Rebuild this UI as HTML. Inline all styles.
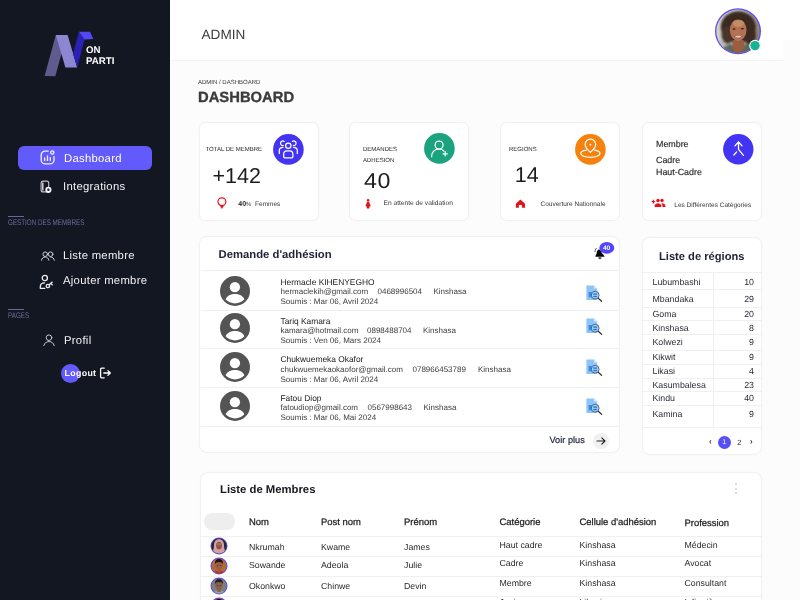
<!DOCTYPE html>
<html lang="fr">
<head>
<meta charset="utf-8">
<title>Dashboard</title>
<style>
*{box-sizing:border-box;margin:0;padding:0}
html,body{width:800px;height:600px;overflow:hidden}
body{font-family:"Liberation Sans",sans-serif;background:#fcfcfc;color:#222;position:relative;will-change:transform;text-rendering:geometricPrecision}
.abs{position:absolute}
.t{position:absolute;white-space:nowrap;line-height:1}
/* sidebar */
#side{position:absolute;left:0;top:0;width:170px;height:600px;background:#131722}
.nav{position:absolute;left:63px;color:#f1f1f4;font-size:11.3px;letter-spacing:.28px;line-height:1;white-space:nowrap}
.sec{position:absolute;left:8px;color:#6e6a9c;font-size:8.1px;line-height:1;white-space:nowrap;letter-spacing:0;transform:scaleX(.775);transform-origin:0 0}
.secl{position:absolute;left:8.300px;width:16px;height:1.800px;background:#6b6695}
/* header */
#top{position:absolute;left:170px;top:0;width:613px;height:60.500px;background:#fff;border-bottom:1px solid #f3f3f3}
/* cards */
.card{position:absolute;background:#fff;border:1px solid #f1f1f1;border-radius:7px;box-shadow:0 0 2px rgba(0,0,0,.045)}
.lbl{position:absolute;font-size:6px;color:#262626;white-space:nowrap;line-height:1}
.big{position:absolute;font-size:21.5px;color:#1c1c1c;white-space:nowrap;line-height:1}
.sm{position:absolute;font-size:6.5px;color:#383838;white-space:nowrap;line-height:1}
.circ{position:absolute;width:31px;height:31px;border-radius:50%}
</style>
</head>
<body>

<!-- ================= SIDEBAR ================= -->
<div id="side">
  <!-- logo -->
  <svg class="abs" style="left:40px;top:26px" width="84" height="54" viewBox="40 26 84 54">
    <polygon points="55.8,34.9 66.7,34.9 55.3,76.2 44.6,75.9" fill="#5f5b8e"/>
    <polygon points="55.8,34.900 67.600,34.900 77.200,67.500 65.400,67.500" fill="#8d86d3"/>
    <polygon points="78.900,31.750 84.500,39.600 77.200,67.500 73.100,53.700" fill="#2b1fb4"/>
    <polygon points="78.900,31.750 90.100,31.750 93.300,39.100 84.500,39.600" fill="#5249f4"/>
  </svg>
  <div class="t" style="left:86px;top:46px;font-size:9.700px;font-weight:bold;color:#fff">ON</div>
  <div class="t" style="left:86px;top:56.500px;font-size:9.700px;font-weight:bold;color:#fff">PARTI</div>

  <!-- active item -->
  <div class="abs" style="left:18px;top:145.5px;width:134px;height:24.5px;border-radius:6px;background:#625afa"></div>
  <svg class="abs" style="left:39px;top:149px" width="17" height="17" viewBox="0 0 17 17" fill="none" stroke="#efeeff" stroke-width="1.350" stroke-linecap="round">
    <path d="M9.300 2.100H6.200a4 4 0 0 0-4 4v4.800a4 4 0 0 0 4 4h4.800a4 4 0 0 0 4-4V7.400"/>
    <circle cx="13.300" cy="3.500" r="1.600"/>
    <path d="M5.700 8.800v2.800M8.500 6.800v4.800M11.300 8.600v3"/>
  </svg>
  <div class="nav" style="left:64px;top:153.600px;color:#fff">Dashboard</div>

  <svg class="abs" style="left:39px;top:180px" width="15" height="15" viewBox="0 0 15 15" fill="none" stroke="#c4c4cc" stroke-width="1.100">
    <rect x="2.100" y="1.100" width="7.600" height="10.800" rx="2"/>
    <path d="M3.800 2.400v8.200" stroke-width="1.600"/>
    <circle cx="9.400" cy="9.800" r="3.100" fill="#f4f4f6" stroke="none"/>
    <circle cx="9.400" cy="9.800" r="1.200" fill="#1a1e2a" stroke="none"/>
  </svg>
  <div class="nav" style="top:181.800px">Integrations</div>

  <div class="secl" style="top:215.600px"></div>
  <div class="sec" style="top:219.100px">GESTION DES MEMBRES</div>

  <svg class="abs" style="left:40px;top:250px" width="16" height="12" viewBox="0 0 16 12" fill="none" stroke="#cfcfd8" stroke-width="1" stroke-linecap="round">
    <circle cx="5.200" cy="4.200" r="2.300"/>
    <path d="M1.500 10.200c.3-1.900 1.700-3.200 3.700-3.200s3.400 1.300 3.700 3.200"/>
    <circle cx="10.600" cy="4.200" r="2.300"/>
    <path d="M10.600 7c2 0 3.400 1.300 3.700 3.200"/>
  </svg>
  <div class="nav" style="top:251px">Liste membre</div>

  <svg class="abs" style="left:39px;top:273.500px" width="16" height="16" viewBox="0 0 16 16" fill="none" stroke="#ececf2" stroke-width="1.300" stroke-linecap="round" stroke-linejoin="round">
    <circle cx="5.800" cy="4" r="2.600"/>
    <path d="M1.300 14.300v-1.600c0-2.300 1.700-3.900 4.300-3.900M1.300 14.300h4.500"/>
    <circle cx="8.900" cy="12" r="1.700"/>
    <path d="M10.200 10.800l3-2.700M12 9.500l1.200 1.200"/>
  </svg>
  <div class="nav" style="top:276.300px">Ajouter membre</div>

  <div class="secl" style="top:308.600px"></div>
  <div class="sec" style="top:312.100px">PAGES</div>

  <svg class="abs" style="left:42px;top:333px" width="14" height="14" viewBox="0 0 14 14" fill="none" stroke="#c6c6cf" stroke-width="1" stroke-linecap="round">
    <circle cx="7" cy="4.700" r="2.800"/>
    <path d="M1.800 12.600c.5-2.600 2.600-4 5.200-4s4.700 1.400 5.200 4"/>
  </svg>
  <div class="nav" style="left:64px;top:336.200px">Profil</div>

  <div class="abs" style="left:60.500px;top:363.500px;width:19px;height:19px;border-radius:50%;background:#625afa"></div>
  <div class="t" style="left:64.500px;top:369px;font-size:8.800px;font-weight:bold;color:#fff;letter-spacing:.35px">Logout</div>
  <svg class="abs" style="left:99px;top:367px" width="13" height="12" viewBox="0 0 13 12" fill="none" stroke="#fff" stroke-width="1.300" stroke-linecap="round" stroke-linejoin="round">
    <path d="M5.200 1.200H2.600a1 1 0 0 0-1 1v7.600a1 1 0 0 0 1 1h2.600"/>
    <path d="M4.800 6h6.400M8.900 3.600L11.300 6 8.900 8.400"/>
  </svg>
</div>

<!-- ================= HEADER ================= -->
<div id="top"></div>
<div class="abs" style="left:783px;top:0;width:17px;height:40px;background:#fff"></div>
<div class="t" style="left:201.500px;top:28px;font-size:13.600px;color:#3a3a3a">ADMIN</div>
<!-- avatar -->
<svg class="abs" style="left:714px;top:8px" width="48" height="48" viewBox="714 8 48 48">
  <defs>
    <clipPath id="avc"><circle cx="738" cy="31.300" r="21.700"/></clipPath>
    <filter id="avb" x="-20%" y="-20%" width="140%" height="140%"><feGaussianBlur stdDeviation="0.9"/></filter>
    <filter id="avb2" x="-20%" y="-20%" width="140%" height="140%"><feGaussianBlur stdDeviation="0.5"/></filter>
    <linearGradient id="avbg" x1="0" y1="0" x2="1" y2="0.300">
      <stop offset="0" stop-color="#dcd3c6"/><stop offset=".45" stop-color="#c9ccc4"/><stop offset="1" stop-color="#8f8271"/>
    </linearGradient>
  </defs>
  <circle cx="738" cy="31.300" r="23" fill="#5a4ff2"/>
  <g clip-path="url(#avc)">
    <rect x="714" y="8" width="48" height="48" fill="url(#avbg)"/>
    <g filter="url(#avb)">
      <ellipse cx="722" cy="48" rx="9" ry="8" fill="#b9bdb8"/>
      <!-- hair -->
      <ellipse cx="738.300" cy="27" rx="17.600" ry="15.800" fill="#3b2a22"/>
      <ellipse cx="727.500" cy="35" rx="6" ry="9" fill="#49342a"/>
      <ellipse cx="750" cy="35" rx="6" ry="10" fill="#3a2921"/>
      <!-- clothes -->
      <path d="M718 56c1-8 8-11 13-12l7 4 8-4c5 1 10 4 12 12z" fill="#5f675e"/>
    </g>
    <g filter="url(#avb2)">
      <!-- neck -->
      <path d="M733 40h10.500l1 8-5 6h-3l-4.500-6z" fill="#9a5d40"/>
      <!-- face -->
      <ellipse cx="738.200" cy="30" rx="8.300" ry="11" fill="#b27252"/>
      <ellipse cx="738.500" cy="23.500" rx="5.500" ry="3.500" fill="#c58a66"/>
      <ellipse cx="734" cy="29" rx="1.600" ry=".8" fill="#3a2119"/>
      <ellipse cx="742.300" cy="28.800" rx="1.600" ry=".8" fill="#3a2119"/>
      <ellipse cx="738.200" cy="37" rx="3.300" ry="1.300" fill="#e3c3b8"/>
      <path d="M734.500 36.300c2 2.600 5.500 2.600 7.500 0" stroke="#8c3f3a" stroke-width=".8" fill="none"/>
      <!-- hair top fringe -->
      <path d="M728 24c2-7 18-7 20.500 0-3-3.500-6-4.500-10-4.500s-8 1-10.500 4.500z" fill="#35251e"/>
    </g>
  </g>
  <circle cx="755" cy="45.600" r="5.800" fill="#fff"/>
  <circle cx="755" cy="45.600" r="4.700" fill="#18b394"/>
</svg>

<div class="t" style="left:198px;top:79.800px;font-size:6px;color:#333">ADMIN / DASHBOARD</div>
<div class="t" style="left:198px;top:90.800px;font-size:14.800px;font-weight:bold;color:#3b3b3d;-webkit-text-stroke:.35px #3b3b3d">DASHBOARD</div>

<!-- ================= STAT CARDS ================= -->
<div class="card" style="left:199px;top:122px;width:120px;height:98.500px"></div>
<div class="card" style="left:349px;top:122px;width:120px;height:98.500px"></div>
<div class="card" style="left:500px;top:122px;width:120px;height:98.500px"></div>
<div class="card" style="left:642px;top:122px;width:120px;height:98.500px"></div>

<!-- card 1 -->
<div class="lbl" style="left:205.500px;top:147px">TOTAL DE MEMBRE</div>
<svg class="abs" style="left:273px;top:133.800px" width="31" height="31" viewBox="0 0 31 31">
  <circle cx="15.400" cy="15.400" r="15.300" fill="#4333f2"/>
  <g fill="none" stroke="#fff" stroke-width="1.250" stroke-linecap="round" stroke-linejoin="round">
    <circle cx="15.300" cy="11.700" r="2.700"/>
    <path d="M10.700 22.800V20.300c0-2 1.300-3.400 3.300-3.400h2.600c2 0 3.300 1.400 3.300 3.400V22.800c0 .6-.4 1-1 1h-7.200c-.6 0-1-.4-1-1z"/>
    <path d="M11.200 7.400A2.300 2.300 0 1 0 10.300 11.500"/>
    <path d="M6.300 19.500V16.600c0-2 1.500-3.300 3.700-3.300"/>
    <path d="M19.400 7.400A2.300 2.300 0 1 1 20.300 11.500"/>
    <path d="M24.300 19.500V16.600c0-2-1.500-3.300-3.700-3.300"/>
  </g>
</svg>
<div class="big" style="left:212.500px;top:166px">+142</div>
<svg class="abs" style="left:216.200px;top:195.600px" width="12" height="14" viewBox="0 0 12 14">
  <circle cx="5.900" cy="5.700" r="3.900" fill="none" stroke="#e8141c" stroke-width="1.200"/>
  <path d="M3.800 9.600h4.200L5.900 13z" fill="#e8141c"/>
</svg>
<div class="sm" style="left:238.300px;top:201px;font-size:6.500px"><b style="color:#1c1c1c;font-size:7px">40</b><span style="font-size:6px">%</span>&nbsp; Femmes</div>

<!-- card 2 -->
<div class="lbl" style="left:363px;top:147px">DEMANDES</div>
<div class="lbl" style="left:363px;top:158px">ADHESION</div>
<svg class="abs" style="left:424px;top:132.700px" width="31" height="31" viewBox="0 0 31 31">
  <circle cx="15.400" cy="15.400" r="15.300" fill="#1ba380"/>
  <g fill="none" stroke="#fff" stroke-width="1.200" stroke-linecap="round">
    <circle cx="15.100" cy="12.100" r="4"/>
    <path d="M7.700 23.800v-.8c0-4 3.200-7 7.300-7 2 0 3.800.8 5 2.100"/>
    <path d="M19 20.800h4.400M21.200 18.600v4.400" stroke-width="1.200"/>
  </g>
</svg>
<div class="big" style="left:363.500px;top:171.300px;letter-spacing:.6px;transform:scaleX(1.08);transform-origin:0 0">40</div>
<svg class="abs" style="left:364px;top:198.300px" width="9" height="12" viewBox="0 0 9 12">
  <circle cx="4.100" cy="2.200" r="1.250" fill="#e0141c"/>
  <path d="M3.100 3.800h2l1.700 4.500H5.600l-.3 2.300H2.900l-.3-2.300H1.400z" fill="#e0141c"/>
</svg>
<div class="sm" style="left:383.500px;top:201.300px;font-size:6.650px">En attente de validation</div>

<!-- card 3 -->
<div class="lbl" style="left:509px;top:147px">REGIONS</div>
<svg class="abs" style="left:575px;top:134px" width="31" height="31" viewBox="0 0 31 31">
  <circle cx="15.400" cy="15.400" r="15.300" fill="#f6820d"/>
  <g fill="none" stroke="#fff" stroke-width="1.200" stroke-linecap="round" stroke-linejoin="round">
    <path d="M15.400 18.400C12 15.200 10.100 13 10.100 10.500a5.300 5.300 0 0 1 10.600 0c0 2.500-1.900 4.700-5.300 7.900z"/>
    <circle cx="15.400" cy="10.700" r=".9" fill="#fff" stroke="none"/>
    <path d="M11.300 16.100C7.900 16.600 5.800 17.900 5.800 19.500c0 2.100 4.300 3.800 9.600 3.800s9.600-1.700 9.600-3.800c0-1.600-2.100-2.900-5.500-3.400"/>
  </g>
</svg>
<div class="big" style="left:514.800px;top:165.200px">14</div>
<svg class="abs" style="left:515px;top:199px" width="11" height="10" viewBox="0 0 11 10">
  <path d="M5.400 .6L.8 4.700v4h3.100V6.100h3v2.600h3.100v-4z" fill="#e0141c"/>
</svg>
<div class="sm" style="left:540.500px;top:202px">Couverture Nationnale</div>

<!-- card 4 -->
<div class="t" style="left:656px;top:139.800px;font-size:8.900px;color:#2a2a2a;-webkit-text-stroke:.15px #2a2a2a">Membre</div>
<div class="t" style="left:656px;top:155.700px;font-size:8.900px;color:#2a2a2a;-webkit-text-stroke:.15px #2a2a2a">Cadre</div>
<div class="t" style="left:656px;top:167.800px;font-size:8.900px;color:#2a2a2a;-webkit-text-stroke:.15px #2a2a2a">Haut-Cadre</div>
<svg class="abs" style="left:722.500px;top:134.300px" width="31" height="31" viewBox="0 0 31 31">
  <circle cx="15.300" cy="15.300" r="15.200" fill="#4333f2"/>
  <g fill="none" stroke="#fff" stroke-width="1.300" stroke-linecap="round" stroke-linejoin="round">
    <path d="M12 11.900L15.500 8 19 11.900"/>
    <path d="M15.500 8.200V15.400L20.400 21.300"/>
    <path d="M13.700 17.900L10.900 21"/>
  </g>
</svg>
<svg class="abs" style="left:651px;top:197.800px" width="15" height="10" viewBox="0 0 15 10" fill="#e0141c">
  <path d="M.6 3.600h3.600M2.400 1.800v3.600" stroke="#e0141c" stroke-width="1.100" fill="none"/>
  <circle cx="7" cy="2.500" r="1.700"/>
  <circle cx="11" cy="2.500" r="1.700"/>
  <path d="M3.600 9v-1.300c0-1.600 2.200-2.500 3.400-2.500s3.400.9 3.400 2.500V9z"/>
  <path d="M11.200 5.300c1.400.1 3.200 1 3.200 2.400V9h-3V7.600c0-.9-.5-1.700-1.100-2.200.3-.1.600-.1.900-.1z"/>
</svg>
<div class="sm" style="left:674.300px;top:202.500px">Les Différentes Catégories</div>

<!-- ================= DEMANDE D'ADHESION ================= -->
<style>
.panel{position:absolute;background:#fff;border:1px solid #f1f1f1;border-radius:8px;box-shadow:0 0 2px rgba(0,0,0,.045)}
.hl{position:absolute;height:1px;background:#f0f0f2}
.nm{position:absolute;font-size:8.4px;color:#222;white-space:nowrap;line-height:1}
.em{position:absolute;font-size:8px;color:#3d3d3d;white-space:nowrap;line-height:1}
.av{position:absolute;width:30px;height:30px}
.doc{position:absolute;width:17px;height:18px}
.rg{position:absolute;left:652.5px;font-size:8.8px;color:#2b2d3a;white-space:nowrap;line-height:1}
.rn{position:absolute;right:46px;font-size:8.8px;color:#2b2d3a;white-space:nowrap;line-height:1;text-align:right}
.th{position:absolute;font-size:9.45px;color:#1d1d1f;white-space:nowrap;line-height:1;-webkit-text-stroke:.25px #1d1d1f}
.td{position:absolute;font-size:8.75px;color:#2a2a2a;white-space:nowrap;line-height:1}
.mav{position:absolute;left:210.500px;width:17px;height:17px;border-radius:50%;border:1.500px solid #5a4fd8;overflow:hidden}
</style>
<svg width="0" height="0" style="position:absolute">
  <defs>
    <symbol id="person" viewBox="0 0 30 30">
      <circle cx="15" cy="15" r="15" fill="#545454"/>
      <circle cx="14.900" cy="11.200" r="5.150" fill="#fff"/>
      <path d="M5.600 23.200C7 19.600 11 17.900 15 17.900S23 19.600 24.400 23.200A12.500 12.500 0 0 1 5.600 23.200z" fill="#fff"/>
    </symbol>
    <symbol id="doc" viewBox="0 0 17 18">
      <path d="M0.400 0.400h7.700l3 3v11.600h-10.700z" fill="#8cc5f8"/>
      <path d="M8.100 0.400v3h3z" fill="#e3f1fe"/>
      <rect x="2.600" y="7" width="3.200" height="5.300" fill="#3b8ce6"/>
      <circle cx="9.200" cy="10.200" r="3.900" fill="#a3d4fe" stroke="#4d525a" stroke-width=".85"/>
      <rect x="7.300" y="8.400" width="3.800" height="1.400" fill="#1f7be0"/>
      <rect x="7.300" y="10.800" width="3.800" height="1.400" fill="#1f7be0"/>
      <path d="M12.200 13.300l3.400 3" stroke="#2b2f36" stroke-width="1.150" stroke-linecap="round"/>
    </symbol>
  </defs>
</svg>

<div class="panel" style="left:199px;top:235.500px;width:421px;height:217px"></div>
<div class="t" style="left:218.500px;top:249.800px;font-size:11.300px;font-weight:bold;color:#1e2235">Demande d'adhésion</div>
<!-- bell + badge -->
<svg class="abs" style="left:590px;top:238px" width="28" height="24" viewBox="590 238 28 24">
  <path d="M598.600 249.500c-1.400.7-1.900 2.300-2 4.100l-1.100 2.500v.700h9v-.600l-2.700-3.500c-.5-1.800-1.500-3-3.200-3.200z" fill="#050505"/>
  <path d="M598.300 257.200h3.200c0 1.200-.7 2-1.600 2s-1.600-.8-1.600-2z" fill="#3a3a3a"/>
  <path d="M595 251.800c0-1.400.4-2.500 1.300-3.500" stroke="#333" stroke-width=".8" fill="none" stroke-linecap="round"/>
  <ellipse cx="606.800" cy="247.900" rx="7.500" ry="5.900" fill="#5146fb"/>
</svg>
<div class="t" style="left:602.900px;top:245.700px;font-size:6.600px;font-weight:bold;color:#fff">40</div>

<div class="hl" style="left:200.500px;top:270px;width:418.500px"></div>
<div class="hl" style="left:200.500px;top:309.500px;width:418.500px"></div>
<div class="hl" style="left:200.500px;top:348px;width:418.500px"></div>
<div class="hl" style="left:200.500px;top:387px;width:418.500px"></div>
<div class="hl" style="left:200.500px;top:426px;width:418.500px"></div>

<!-- row 1 -->
<svg class="av" style="left:220px;top:276.300px"><use href="#person"/></svg>
<div class="nm" style="left:280.500px;top:277.500px">Hermacle KIHENYEGHO</div>
<div class="em" style="left:280.500px;top:287.800px">hermaclekih@gmail.com</div>
<div class="em" style="left:377.500px;top:287.800px">0468996504</div>
<div class="em" style="left:433.500px;top:287.800px">Kinshasa</div>
<div class="em" style="left:280.500px;top:298.300px">Soumis : Mar 06, Avril 2024</div>
<svg class="doc" style="left:585.500px;top:285px"><use href="#doc"/></svg>
<!-- row 2 -->
<svg class="av" style="left:220px;top:313.300px"><use href="#person"/></svg>
<div class="nm" style="left:280.500px;top:316.500px">Tariq Kamara</div>
<div class="em" style="left:280.500px;top:326.800px">kamara@hotmail.com</div>
<div class="em" style="left:367px;top:326.800px">0898488704</div>
<div class="em" style="left:423px;top:326.800px">Kinshasa</div>
<div class="em" style="left:280.500px;top:337.300px">Soumis : Ven 06, Mars 2024</div>
<svg class="doc" style="left:585.500px;top:318px"><use href="#doc"/></svg>
<!-- row 3 -->
<svg class="av" style="left:220px;top:352.300px"><use href="#person"/></svg>
<div class="nm" style="left:280.500px;top:355px">Chukwuemeka Okafor</div>
<div class="em" style="left:280.500px;top:365.500px">chukwuemekaokaofor@gmail.com</div>
<div class="em" style="left:412.500px;top:365.500px">078966453789</div>
<div class="em" style="left:478px;top:365.500px">Kinshasa</div>
<div class="em" style="left:280.500px;top:375.800px">Soumis : Mar 06, Avril 2024</div>
<svg class="doc" style="left:585.500px;top:358.500px"><use href="#doc"/></svg>
<!-- row 4 -->
<svg class="av" style="left:220px;top:391.300px"><use href="#person"/></svg>
<div class="nm" style="left:280.500px;top:393.500px">Fatou Diop</div>
<div class="em" style="left:280.500px;top:404px">fatoudiop@gmail.com</div>
<div class="em" style="left:367.500px;top:404px">0567998643</div>
<div class="em" style="left:423.500px;top:404px">Kinshasa</div>
<div class="em" style="left:280.500px;top:414.300px">Soumis : Mar 06, Mai 2024</div>
<svg class="doc" style="left:585.500px;top:398px"><use href="#doc"/></svg>

<div class="t" style="left:549.500px;top:436.400px;font-size:9.200px;color:#1e2235;-webkit-text-stroke:.2px #1e2235">Voir plus</div>
<div class="abs" style="left:592.800px;top:432.800px;width:16.500px;height:16.500px;border-radius:50%;background:#f0f0f1"></div>
<svg class="abs" style="left:596px;top:436px" width="10" height="10" viewBox="0 0 10 10" fill="none" stroke="#222" stroke-width="1.100" stroke-linecap="round" stroke-linejoin="round"><path d="M1 5h8M5.800 1.800L9 5 5.800 8.200"/></svg>

<!-- ================= LISTE DE REGIONS ================= -->
<div class="panel" style="left:642px;top:237px;width:120px;height:217.500px"></div>
<div class="t" style="left:659px;top:251.600px;font-size:11.150px;font-weight:bold;color:#1e2235">Liste de régions</div>
<div class="hl" style="left:643px;top:272px;width:118px"></div>
<div class="hl" style="left:643px;top:289px;width:118px"></div>
<div class="hl" style="left:643px;top:307px;width:118px"></div>
<div class="hl" style="left:643px;top:319.800px;width:118px"></div>
<div class="hl" style="left:643px;top:333.700px;width:118px"></div>
<div class="hl" style="left:643px;top:349.600px;width:118px"></div>
<div class="hl" style="left:643px;top:363.600px;width:118px"></div>
<div class="hl" style="left:643px;top:377.600px;width:118px"></div>
<div class="hl" style="left:643px;top:390.700px;width:118px"></div>
<div class="hl" style="left:643px;top:404.700px;width:118px"></div>
<div class="hl" style="left:643px;top:427px;width:118px"></div>
<div class="abs" style="left:713px;top:272px;width:1px;height:155.500px;background:#efeff1"></div>

<div class="rg" style="top:277.5px">Lubumbashi</div><div class="rn" style="top:277.5px">10</div>
<div class="rg" style="top:294.5px">Mbandaka</div><div class="rn" style="top:294.5px">29</div>
<div class="rg" style="top:309.5px">Goma</div><div class="rn" style="top:309.5px">20</div>
<div class="rg" style="top:323.5px">Kinshasa</div><div class="rn" style="top:323.5px">8</div>
<div class="rg" style="top:338.0px">Kolwezi</div><div class="rn" style="top:338.0px">9</div>
<div class="rg" style="top:353px">Kikwit</div><div class="rn" style="top:353px">9</div>
<div class="rg" style="top:366.800px">Likasi</div><div class="rn" style="top:366.800px">4</div>
<div class="rg" style="top:380.600px">Kasumbalesa</div><div class="rn" style="top:380.600px">23</div>
<div class="rg" style="top:394px">Kindu</div><div class="rn" style="top:394px">40</div>
<div class="rg" style="top:409.700px">Kamina</div><div class="rn" style="top:409.700px">9</div>

<div class="t" style="left:709px;top:438.200px;font-size:8px;color:#333;font-weight:bold">‹</div>
<div class="abs" style="left:717.500px;top:435.500px;width:13.500px;height:13.500px;border-radius:50%;background:#584ff5"></div>
<div class="t" style="left:722.300px;top:439.300px;font-size:7px;color:#fff">1</div>
<div class="t" style="left:737.200px;top:438.900px;font-size:7.500px;color:#222">2</div>
<div class="t" style="left:750px;top:438.200px;font-size:8px;color:#333;font-weight:bold">›</div>

<!-- ================= LISTE DE MEMBRES ================= -->
<div class="panel" style="left:199.500px;top:472px;width:562.500px;height:160px"></div>
<div class="t" style="left:220px;top:485px;font-size:11.300px;font-weight:bold;color:#16171d">Liste de Membres</div>
<div class="abs" style="left:735.300px;top:483.300px;width:2.200px;height:2.200px;border-radius:50%;background:#cfcfd2"></div>
<div class="abs" style="left:735.300px;top:487.800px;width:2.200px;height:2.200px;border-radius:50%;background:#cfcfd2"></div>
<div class="abs" style="left:735.300px;top:492.300px;width:2.200px;height:2.200px;border-radius:50%;background:#cfcfd2"></div>

<div class="abs" style="left:204px;top:512.500px;width:30.500px;height:17px;border-radius:8px;background:#eeeeef"></div>
<div class="th" style="left:249px;top:517.500px">Nom</div>
<div class="th" style="left:321px;top:517.500px">Post nom</div>
<div class="th" style="left:404px;top:517.500px">Prénom</div>
<div class="th" style="left:499.500px;top:517.500px">Catégorie</div>
<div class="th" style="left:579.500px;top:517.500px">Cellule d'adhésion</div>
<div class="th" style="left:684.500px;top:519.300px">Profession</div>

<div class="hl" style="left:200.500px;top:536px;width:560.500px"></div>
<div class="hl" style="left:200.500px;top:556px;width:560.500px"></div>
<div class="hl" style="left:200.500px;top:576px;width:560.500px"></div>
<div class="hl" style="left:200.500px;top:595.500px;width:560.500px"></div>

<div class="td" style="left:249px;top:543px">Nkrumah</div><div class="td" style="left:321px;top:543px">Kwame</div><div class="td" style="left:404px;top:543px">James</div>
<div class="td" style="left:499.500px;top:540.700px">Haut cadre</div><div class="td" style="left:579.500px;top:540.700px">Kinshasa</div><div class="td" style="left:684.500px;top:540.700px">Médecin</div>

<div class="td" style="left:249px;top:561.400px">Sowande</div><div class="td" style="left:321px;top:561.400px">Adeola</div><div class="td" style="left:404px;top:561.400px">Julie</div>
<div class="td" style="left:499.500px;top:558.700px">Cadre</div><div class="td" style="left:579.500px;top:558.700px">Kinshasa</div><div class="td" style="left:684.500px;top:558.700px">Avocat</div>

<div class="td" style="left:249px;top:581.600px">Okonkwo</div><div class="td" style="left:321px;top:581.600px">Chinwe</div><div class="td" style="left:404px;top:581.600px">Devin</div>
<div class="td" style="left:499.500px;top:579.400px">Membre</div><div class="td" style="left:579.500px;top:579.400px">Kinshasa</div><div class="td" style="left:684.500px;top:579.400px">Consultant</div>

<div class="td" style="left:499.500px;top:598.400px">Junior</div><div class="td" style="left:579.500px;top:598.400px">Likasi</div><div class="td" style="left:684.500px;top:598.400px">Infirmière</div>

<svg class="abs" style="left:209.0px;top:536px" width="20" height="20" viewBox="0 0 20 20">
  <defs><clipPath id="mc1"><circle cx="10" cy="10" r="7.600"/></clipPath><filter id="mb1" x="-30%" y="-30%" width="160%" height="160%"><feGaussianBlur stdDeviation="0.45"/></filter></defs>
  <circle cx="10" cy="10" r="8.500" fill="#5b4fdc"/>
  <g clip-path="url(#mc1)"><rect width="20" height="20" fill="#26262c"/><g filter="url(#mb1)"><path d="M10 3.200c-3.300 0-5 2.600-5 5.800 0 3-.8 5.500-2 9h14c-1.200-3.500-2-6-2-9 0-3.200-1.700-5.800-5-5.800z" fill="#d6a0a4"/>
    <ellipse cx="10" cy="9.600" rx="2.900" ry="3.900" fill="#8b5846"/>
    <ellipse cx="10" cy="8.200" rx="2" ry="1.300" fill="#a87058"/></g></g>
</svg>
<svg class="abs" style="left:209.0px;top:555.9px" width="20" height="20" viewBox="0 0 20 20">
  <defs><clipPath id="mc2"><circle cx="10" cy="10" r="7.600"/></clipPath><filter id="mb2" x="-30%" y="-30%" width="160%" height="160%"><feGaussianBlur stdDeviation="0.45"/></filter></defs>
  <circle cx="10" cy="10" r="8.500" fill="#5b4fdc"/>
  <g clip-path="url(#mc2)"><rect width="20" height="20" fill="#b0683e"/><g filter="url(#mb2)"><path d="M2 20c0-3.500 3-5 8-5s8 1.500 8 5z" fill="#c22f28"/>
    <rect x="8.400" y="12" width="3.200" height="4" fill="#9c5d3f"/>
    <ellipse cx="10" cy="9.300" rx="3.700" ry="4.600" fill="#9c5d3f"/>
    <path d="M6 8.300c-.3-3.500 1.500-5.300 4-5.300s4.300 1.800 4 5.300c-.6-1.600-1.800-2.400-4-2.400s-3.400.8-4 2.400z" fill="#1d1412"/>
    <ellipse cx="8.500" cy="9.300" rx=".6" ry=".4" fill="#1e1410"/><ellipse cx="11.500" cy="9.300" rx=".6" ry=".4" fill="#1e1410"/></g></g>
</svg>
<svg class="abs" style="left:209.0px;top:575.6px" width="20" height="20" viewBox="0 0 20 20">
  <defs><clipPath id="mc3"><circle cx="10" cy="10" r="7.600"/></clipPath><filter id="mb3" x="-30%" y="-30%" width="160%" height="160%"><feGaussianBlur stdDeviation="0.45"/></filter></defs>
  <circle cx="10" cy="10" r="8.500" fill="#5b4fdc"/>
  <g clip-path="url(#mc3)"><rect width="20" height="20" fill="#7b7e82"/><g filter="url(#mb3)"><path d="M2 20c0-3.500 3-5 8-5s8 1.500 8 5z" fill="#a3a29f"/>
    <rect x="8.400" y="12" width="3.200" height="4" fill="#8a5f46"/>
    <ellipse cx="10" cy="9.300" rx="3.700" ry="4.600" fill="#8a5f46"/>
    <path d="M6 8.300c-.3-3.500 1.500-5.300 4-5.300s4.300 1.800 4 5.300c-.6-1.600-1.800-2.400-4-2.400s-3.400.8-4 2.400z" fill="#2a211d"/>
    <ellipse cx="8.500" cy="9.300" rx=".6" ry=".4" fill="#1e1410"/><ellipse cx="11.500" cy="9.300" rx=".6" ry=".4" fill="#1e1410"/></g></g>
</svg>
<svg class="abs" style="left:209.0px;top:596px" width="20" height="20" viewBox="0 0 20 20">
  <defs><clipPath id="mc4"><circle cx="10" cy="10" r="7.600"/></clipPath><filter id="mb4" x="-30%" y="-30%" width="160%" height="160%"><feGaussianBlur stdDeviation="0.45"/></filter></defs>
  <circle cx="10" cy="10" r="8.500" fill="#5b4fdc"/>
  <g clip-path="url(#mc4)"><rect width="20" height="20" fill="#b5452c"/><g filter="url(#mb4)"><path d="M2 20c0-3.500 3-5 8-5s8 1.500 8 5z" fill="#c22f28"/>
    <rect x="8.400" y="12" width="3.200" height="4" fill="#9c5d3f"/>
    <ellipse cx="10" cy="9.300" rx="3.700" ry="4.600" fill="#9c5d3f"/>
    <path d="M6 8.300c-.3-3.500 1.500-5.300 4-5.300s4.300 1.800 4 5.300c-.6-1.600-1.800-2.400-4-2.400s-3.400.8-4 2.400z" fill="#1d1412"/>
    <ellipse cx="8.500" cy="9.300" rx=".6" ry=".4" fill="#1e1410"/><ellipse cx="11.500" cy="9.300" rx=".6" ry=".4" fill="#1e1410"/></g></g>
</svg>

</body>
</html>
